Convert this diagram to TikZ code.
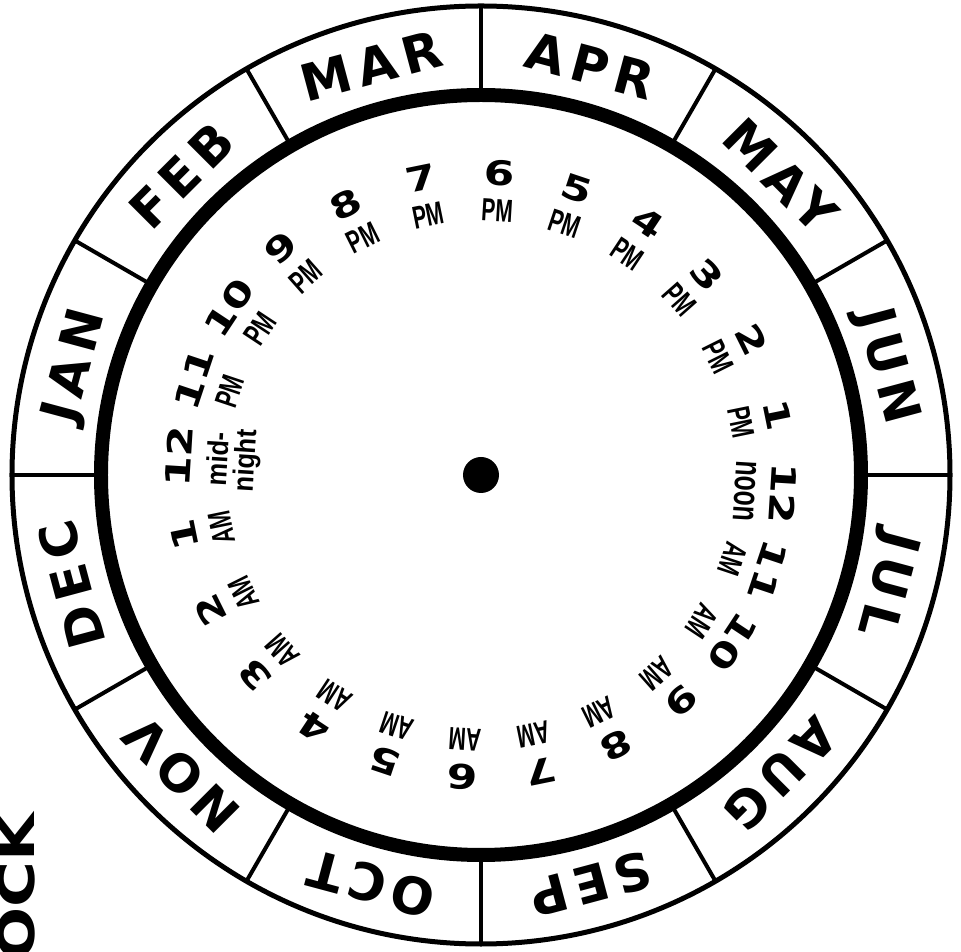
\documentclass[tikz,border=0pt]{standalone}
\usepackage{fontspec}
\setmainfont{Liberation Sans}
\newfontfamily\monthfont[LetterSpace=14]{DejaVu Sans}
\newfontfamily\wordfont[FakeStretch=1.25]{DejaVu Sans}
\newfontfamily\numfont[FakeStretch=1.3]{DejaVu Sans}
\newfontfamily\tagfont[FakeStretch=0.65]{Liberation Sans}
\newfontfamily\midfont[FakeStretch=0.88]{Liberation Sans}
\newcommand\noontxt[1]{{\fontsize{38}{38}\selectfont #1}}
\newcommand\midtxt[1]{{\midfont\fontsize{29}{29}\selectfont #1}}

\tikzset{
  month/.style={font=\monthfont\bfseries\fontsize{51}{51}\selectfont, inner sep=0pt, anchor=base},
  hournum/.style={font=\numfont\bfseries\fontsize{34}{34}\selectfont, inner sep=0pt, anchor=base},
  hourtag/.style={font=\tagfont\bfseries\fontsize{32}{32}\selectfont, inner sep=0pt, anchor=base},
}

\begin{document}
\begin{tikzpicture}
    \useasboundingbox (-481pt,-477pt) rectangle (480pt,475pt);
    \clip (-481pt,-477pt) rectangle (480pt,475pt);

    % month ring
    \foreach \a in {0,30,...,330}
    \draw[line width=4pt] (\a:380pt) -- (\a:469pt);
    \draw[line width=5pt] (0,0) circle[radius=469pt];
    \draw[line width=14pt] (0,0) circle[radius=380pt];

    \foreach \m [count=\i, evaluate=\i as \a using 30*\i-15] in {JUN,MAY,APR,MAR,FEB,JAN,DEC,NOV,OCT,SEP,AUG,JUL}
    \node[month, rotate=\a-90] (m\i) at (\a:405pt) {\m};

    % hours --- numbers h1...h24, tags t1...t24
    \foreach \n/\t [count=\k, evaluate=\k as \a using 101.5-15*\k] in {6/PM,5/PM,4/PM,3/PM,2/PM,1/PM,12/{\noontxt{noon}},11/AM,10/AM,9/AM,8/AM,7/AM,6/AM,5/AM,4/AM,3/AM,2/AM,1/AM,12/{\midtxt{mid-}},11/PM,10/PM,9/PM,8/PM,7/PM}
    {
    \node[hournum, rotate=\a-90] (h\k) at (\a:290pt) {\n};
    \node[hourtag, rotate=\a-90] (t\k) at (\a:254pt) {\t};
    }
    \node[hourtag, rotate=86.5] (night) at (176.5:227pt) {\midtxt{night}};

    \node[circle, fill, inner sep=0pt, minimum size=36pt] (hub) at (0,0) {};

    \node[month, font=\wordfont\bfseries\fontsize{50}{50}\selectfont, rotate=90, anchor=base east] (word) at (-446pt,-338pt) {OCK};
\end{tikzpicture}
\end{document}
